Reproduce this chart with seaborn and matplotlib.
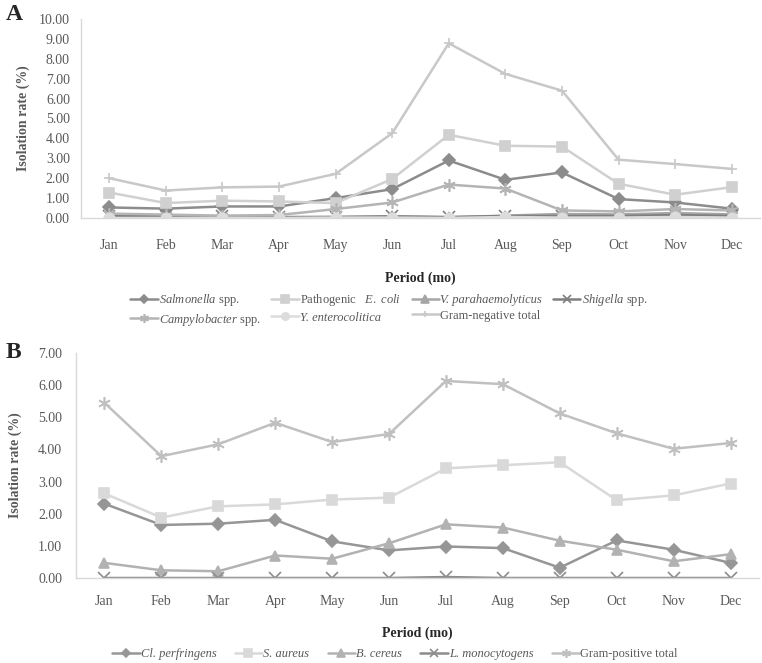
import matplotlib
matplotlib.use("Agg")
import matplotlib.pyplot as plt
import seaborn as sns
from matplotlib.ticker import FixedLocator

# Monthly isolation rates (%)
months = ["Jan", "Feb", "Mar", "Apr", "May", "Jun", "Jul", "Aug", "Sep", "Oct", "Nov", "Dec"]

# Panel A - Gram-negative
salmonella = [0.53, 0.47, 0.58, 0.58, 1.00, 1.45, 2.89, 1.92, 2.29, 0.95, 0.78, 0.47]
e_coli = [1.28, 0.75, 0.87, 0.83, 0.75, 1.96, 4.18, 3.63, 3.59, 1.72, 1.17, 1.55]
v_para = [0.03, 0.03, 0.02, 0.03, 0.05, 0.08, 0.03, 0.12, 0.20, 0.18, 0.25, 0.18]
shigella = [0.12, 0.10, 0.08, 0.05, 0.05, 0.08, 0.05, 0.10, 0.10, 0.10, 0.15, 0.10]
campylobacter = [0.22, 0.17, 0.12, 0.15, 0.45, 0.78, 1.68, 1.48, 0.38, 0.33, 0.45, 0.38]
y_entero = [0.00, 0.00, 0.00, 0.00, 0.02, 0.02, 0.00, 0.05, 0.02, 0.02, 0.05, 0.02]
gram_neg_total = [2.00, 1.38, 1.54, 1.58, 2.22, 4.26, 8.78, 7.24, 6.40, 2.93, 2.71, 2.47]

# Panel B - Gram-positive
cl_perf = [2.31, 1.65, 1.69, 1.81, 1.14, 0.86, 0.98, 0.93, 0.32, 1.17, 0.88, 0.47]
s_aureus = [2.63, 1.88, 2.23, 2.29, 2.44, 2.50, 3.41, 3.51, 3.60, 2.42, 2.57, 2.94]
b_cereus = [0.47, 0.24, 0.21, 0.70, 0.60, 1.08, 1.67, 1.57, 1.16, 0.88, 0.52, 0.74]
l_mono = [0.00, 0.00, 0.00, 0.00, 0.00, 0.00, 0.03, 0.00, 0.00, 0.00, 0.00, 0.00]
gram_pos_total = [5.45, 3.79, 4.16, 4.83, 4.23, 4.48, 6.13, 6.03, 5.12, 4.50, 4.02, 4.20]

sns.set_style("white")
plt.rcParams["font.family"] = ["Liberation Serif", "DejaVu Serif"]
plt.rcParams["mathtext.fontset"] = "custom"
plt.rcParams["mathtext.rm"] = "Liberation Serif"
plt.rcParams["mathtext.it"] = "Liberation Serif:italic"

TEXT = "#595959"
SPINE = "#d9d9d9"
ASTER = (6, 2, 0)

# (values, label, colour, marker, marker size, label fully italic)
series_a = [
    (salmonella, r"$\it{Salmonella}$ spp.", "#8c8c8c", "D", 6, False),
    (e_coli, r"Pathogenic   $\it{E.}$ $\it{coli}$", "#d0d0d0", "s", 7.5, False),
    (v_para, "V. parahaemolyticus", "#a6a6a6", "^", 7.5, True),
    (shigella, r"$\it{Shigella}$ spp.", "#7f7f7f", "x", 8, False),
    (campylobacter, r"$\it{Campylobacter}$ spp.", "#b4b4b4", ASTER, 9, False),
    (y_entero, "Y. enterocolitica", "#dcdcdc", "o", 7.5, True),
    (gram_neg_total, "Gram-negative total", "#c8c8c8", "+", 7, False),
]
series_b = [
    (cl_perf, "Cl. perfringens", "#969696", "D", 6, True),
    (s_aureus, "S. aureus", "#d9d9d9", "s", 7.5, True),
    (b_cereus, "B. cereus", "#b2b2b2", "^", 7.5, True),
    (l_mono, "L. monocytogens", "#8c8c8c", "x", 8, True),
    (gram_pos_total, "Gram-positive total", "#c0c0c0", ASTER, 9, False),
]

fig = plt.figure(figsize=(7.62, 6.63), dpi=100)
ax_a = fig.add_axes([81 / 762, 1 - 218 / 663, 679 / 762, 199 / 663])
ax_b = fig.add_axes([76 / 762, 1 - 578 / 663, 683 / 762, 225 / 663])


def draw(ax, series):
    for vals, label, color, marker, ms, _ in series:
        sns.lineplot(x=months, y=vals, ax=ax, color=color, marker=marker,
                     markersize=ms, markeredgecolor=color, markeredgewidth=1.2,
                     linewidth=1.8, label=label, legend=False, sort=False)


def style(ax, ymax, ypad, xpad, ylab_x, xlab_y):
    ax.set_xlim(-0.5, 11.5)
    ax.set_ylim(0, ymax)
    ax.set_yticks(range(0, ymax + 1))
    ax.set_yticklabels([f"{v:.2f}" for v in range(0, ymax + 1)])
    ax.tick_params(axis="y", length=0, pad=ypad, labelsize=10, labelcolor=TEXT)
    ax.tick_params(axis="x", which="major", length=0, pad=xpad, labelsize=10, labelcolor=TEXT)
    for s in ["top", "right"]:
        ax.spines[s].set_visible(False)
    for s in ["left", "bottom"]:
        ax.spines[s].set_color(SPINE)
        ax.spines[s].set_linewidth(1.0)
    ax.set_ylabel("Isolation rate (%)", fontsize=10, fontweight="bold", color=TEXT)
    ax.yaxis.set_label_coords(ylab_x, 0.5)
    ax.set_xlabel("Period (mo)", fontsize=10, fontweight="bold", color="#262626")
    ax.xaxis.set_label_coords(0.5, xlab_y)
    ax.grid(False)


def add_legend(ax, series, order, ncol, x0, top, colspace):
    h, l = ax.get_legend_handles_labels()
    leg = fig.legend([h[i] for i in order], [l[i] for i in order], ncol=ncol,
                     loc="upper left", bbox_to_anchor=(x0 / 762, 1 - top / 663),
                     frameon=False, fontsize=9, labelcolor=TEXT, handlelength=2.2,
                     handletextpad=0.1, columnspacing=colspace, borderpad=0,
                     borderaxespad=0, labelspacing=0.3, markerscale=0.7)
    for txt, i in zip(leg.get_texts(), order):
        if series[i][5]:
            txt.set_fontstyle("italic")
    return leg


draw(ax_a, series_a)
style(ax_a, 10, 8, 15, -0.075, -0.27)
ax_a.xaxis.set_minor_locator(FixedLocator([i + 0.5 for i in range(-1, 12)]))
ax_a.tick_params(axis="x", which="minor", length=4, color=SPINE, direction="out")

draw(ax_b, series_b)
style(ax_b, 7, 10, 12, -0.079, -0.215)

# panel A legend filled row by row (4 + 3)
add_legend(ax_a, series_a, [0, 4, 1, 5, 2, 6, 3], 4, 130, 292, 0.85)
add_legend(ax_b, series_b, [0, 1, 2, 3, 4], 5, 112, 648, 1.45)

fig.text(6 / 762, 1 - 14 / 663, "A", fontsize=17, fontweight="bold", va="center", ha="left")
fig.text(6 / 762, 1 - 353 / 663, "B", fontsize=17, fontweight="bold", va="center", ha="left")

fig.savefig("out.png", dpi=100)
